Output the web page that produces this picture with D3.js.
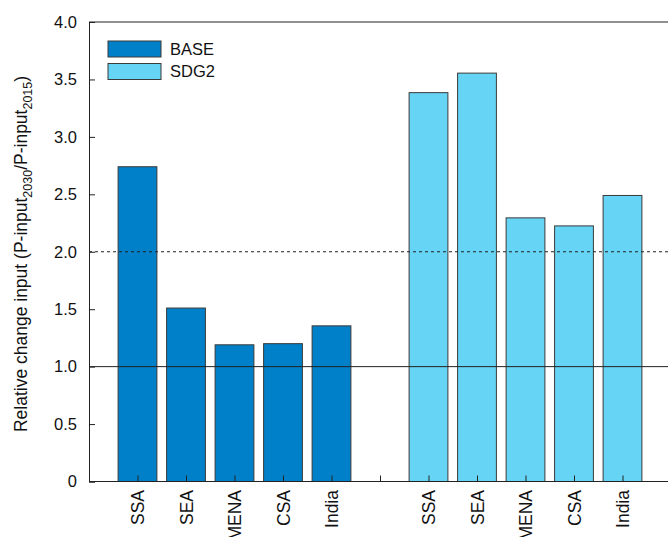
<!DOCTYPE html>
<html>
<head>
<meta charset="utf-8">
<script src="https://cdn.jsdelivr.net/npm/d3@7"></script>
<style>
  body { margin: 0; background: #fff; }
  svg { display: block; font-family: 'Liberation Sans', Arial, sans-serif; }
</style>
</head>
<body>
<svg width="668" height="537"></svg>
<script>
// regions per scenario
const regions = ['SSA', 'SEA', 'MENA', 'CSA', 'India'];
const baseValues = [2.74, 1.51, 1.19, 1.20, 1.355];
const sdg2Values = [3.385, 3.555, 2.295, 2.225, 2.49];
const yTicks = [0, 0.5, 1.0, 1.5, 2.0, 2.5, 3.0, 3.5, 4.0];
const refLines = [{ value: 1.0, dash: null }, { value: 2.0, dash: '3,3' }];

const plotLeft = 89, plotTop = 22, plotBottom = 481.5, plotRight = 671;

// slot positions: 5 BASE, one empty slot, 5 SDG2
const data = [];
regions.forEach((r, i) => data.push({ slot: i + 1, region: r, value: baseValues[i], series: 'BASE' }));
regions.forEach((r, i) => data.push({ slot: i + 7, region: r, value: sdg2Values[i], series: 'SDG2' }));

const colors = { BASE: '#0080c8', SDG2: '#66d4f4' };

const x = d3.scaleLinear().domain([0, 12]).range([plotLeft, plotRight]);
const y = d3.scaleLinear().domain([0, 4]).range([plotBottom, plotTop]);
const slotW = x(1) - x(0);
const barW = slotW * 0.8;

const svg = d3.select('svg');

// bars
svg.append('g').selectAll('rect')
  .data(data)
  .enter().append('rect')
  .attr('x', d => x(d.slot) - barW / 2)
  .attr('y', d => y(d.value))
  .attr('width', barW)
  .attr('height', d => y(0) - y(d.value))
  .attr('fill', d => colors[d.series])
  .attr('stroke', '#3a3a3a')
  .attr('stroke-width', 1);

// reference lines
svg.append('g').selectAll('line')
  .data(refLines)
  .enter().append('line')
  .attr('x1', plotLeft).attr('x2', plotRight)
  .attr('y1', d => y(d.value)).attr('y2', d => y(d.value))
  .attr('stroke', '#222')
  .attr('stroke-width', 1)
  .attr('stroke-dasharray', d => d.dash);

// y axis (ticks inside)
const yAxis = d3.axisLeft(y)
  .tickValues(yTicks)
  .tickSize(-6)
  .tickPadding(12)
  .tickFormat(d => d === 0 ? '0' : d3.format('.1f')(d));
const gy = svg.append('g')
  .attr('transform', `translate(${plotLeft},0)`)
  .call(yAxis);
gy.select('.domain').attr('stroke', '#222');
gy.selectAll('line').attr('stroke', '#222');
gy.selectAll('text').attr('font-size', 16.5).attr('fill', '#111');

// x axis (ticks inside, upward)
const xSlots = d3.range(1, 12);
const xAxis = d3.axisBottom(x)
  .tickValues(xSlots)
  .tickSize(-6)
  .tickFormat(d => {
    const hit = data.find(e => e.slot === d);
    return hit ? hit.region : '';
  });
const gx = svg.append('g')
  .attr('transform', `translate(0,${plotBottom})`)
  .call(xAxis);
gx.select('.domain').attr('stroke', '#222').attr('d', `M${plotLeft},0H${plotRight}`);
gx.selectAll('line').attr('stroke', '#222');
gx.selectAll('text')
  .attr('font-size', 17.5)
  .attr('fill', '#111')
  .attr('transform', 'rotate(-90)')
  .attr('text-anchor', 'end')
  .attr('dy', '0.35em')
  .attr('x', -8.5)
  .attr('y', 0);

// top frame
svg.append('line')
  .attr('x1', plotLeft).attr('x2', plotRight)
  .attr('y1', plotTop).attr('y2', plotTop)
  .attr('stroke', '#222');

// y label with subscripts
const yLabel = svg.append('text')
  .attr('transform', `translate(27,254) rotate(-90)`)
  .attr('text-anchor', 'middle')
  .attr('font-size', 17.5)
  .attr('fill', '#111');
yLabel.append('tspan').text('Relative change input (P-input');
yLabel.append('tspan').attr('font-size', 12.5).attr('dy', 4.5).text('2030');
yLabel.append('tspan').attr('dy', -4.5).text('/P-input');
yLabel.append('tspan').attr('font-size', 12.5).attr('dy', 4.5).text('2015');
yLabel.append('tspan').attr('dy', -4.5).text(')');

// legend
const legend = svg.append('g').attr('transform', 'translate(108,41)');
['BASE', 'SDG2'].forEach((s, i) => {
  const g = legend.append('g').attr('transform', `translate(0,${i * 22.5})`);
  g.append('rect')
    .attr('width', 53).attr('height', 16)
    .attr('fill', colors[s])
    .attr('stroke', '#3a3a3a');
  g.append('text')
    .attr('x', 62).attr('y', 8)
    .attr('dy', '0.36em')
    .attr('font-size', 16.5)
    .attr('fill', '#111')
    .text(s);
});
</script>
</body>
</html>
